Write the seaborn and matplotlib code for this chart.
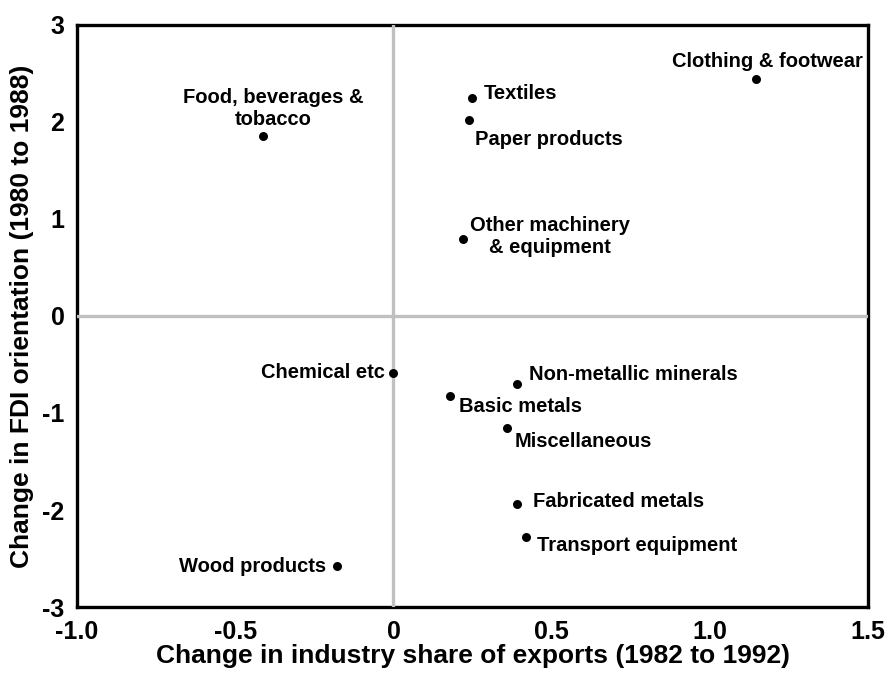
import numpy as np
import pandas as pd
import matplotlib
matplotlib.use("Agg")
import matplotlib.pyplot as plt
import seaborn as sns

sns.set_style("white")
plt.rcParams['font.family'] = ['Liberation Sans', 'DejaVu Sans']
plt.rcParams['font.weight'] = 'bold'
plt.rcParams['axes.unicode_minus'] = False
plt.rcParams['text.color'] = 'black'
plt.rcParams['axes.labelcolor'] = 'black'
plt.rcParams['xtick.color'] = 'black'
plt.rcParams['ytick.color'] = 'black'

# data
industries = ["Clothing & footwear", "Textiles", "Paper products",
              "Food, beverages &\ntobacco", "Other machinery\n& equipment",
              "Chemical etc", "Non-metallic minerals", "Basic metals",
              "Miscellaneous", "Fabricated metals", "Transport equipment",
              "Wood products"]
export_share = [1.147, 0.247, 0.240, -0.411, 0.220, 0.0, 0.389, 0.180,
                0.360, 0.389, 0.420, -0.180]
fdi_orient = [2.44, 2.25, 2.02, 1.85, 0.79, -0.59, -0.70, -0.82,
              -1.15, -1.94, -2.28, -2.58]

xticks = [-1.0, -0.5, 0, 0.5, 1.0, 1.5]
xticklabels = ["-1.0", "-0.5", "0", "0.5", "1.0", "1.5"]
yticks = [-3, -2, -1, 0, 1, 2, 3]

df = pd.DataFrame({"industry": industries, "x": export_share, "y": fdi_orient})

# label offsets in pixels (dx, dy up) and alignment
place = {
    "Clothing & footwear": (11, 18, "center"),
    "Textiles": (12, 4, "left"),
    "Paper products": (6, -20, "left"),
    "Food, beverages &\ntobacco": (10, 28, "center"),
    "Other machinery\n& equipment": (87, 3, "center"),
    "Chemical etc": (-9, 1, "right"),
    "Non-metallic minerals": (12, 9, "left"),
    "Basic metals": (9, -11, "left"),
    "Miscellaneous": (7, -14, "left"),
    "Fabricated metals": (16, 3, "left"),
    "Transport equipment": (11, -8, "left"),
    "Wood products": (-10, 0, "right"),
}

fig = plt.figure(figsize=(8.88, 6.73), dpi=100)
ax = fig.add_axes([0.0867, 0.098, 0.891, 0.865])

ax.axvline(0, color="#c0c0c0", lw=2.4, zorder=2.6)
ax.axhline(0, color="#c0c0c0", lw=2.4, zorder=2.6)

sns.scatterplot(data=df, x="x", y="y", ax=ax, color="black", s=42,
                edgecolor="black", linewidth=0, zorder=4, legend=False)

for name, xv, yv in zip(industries, export_share, fdi_orient):
    dx, dy, ha = place[name]
    ax.annotate(name, (xv, yv), xytext=(dx * 0.72, dy * 0.72),
                textcoords="offset points", ha=ha, va="center",
                multialignment="center", fontsize=14.5, fontweight="bold",
                linespacing=1.22)

ax.set_xlim(-1.0, 1.5)
ax.set_ylim(-3, 3)
ax.set_xticks(xticks)
ax.set_xticklabels(xticklabels)
ax.set_yticks(yticks)
ax.tick_params(direction="in", length=7, width=2.2, labelsize=18)
ax.tick_params(axis="x", pad=9)
ax.tick_params(axis="y", pad=9)
for lab in ax.get_xticklabels() + ax.get_yticklabels():
    lab.set_fontweight("bold")

for sp in ax.spines.values():
    sp.set_linewidth(2.4)
    sp.set_color("black")

ax.set_xlabel("Change in industry share of exports (1982 to 1992)",
              fontsize=19, fontweight="bold")
ax.set_ylabel("Change in FDI orientation (1980 to 1988)",
              fontsize=19, fontweight="bold")
ax.xaxis.set_label_coords(0.5, -0.063)
ax.yaxis.set_label_coords(-0.054, 0.5)

fig.savefig("out.png", dpi=100)
